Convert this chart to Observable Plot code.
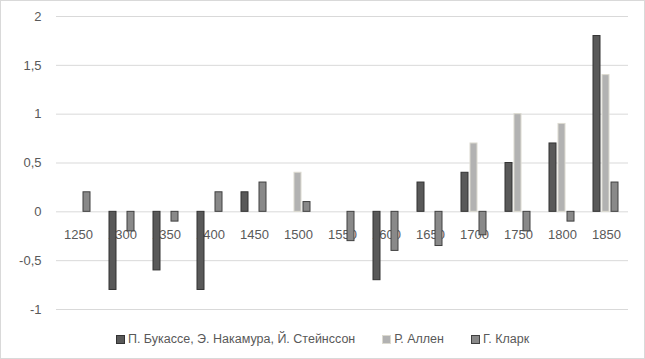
<!DOCTYPE html>
<html>
<head>
<meta charset="utf-8">
<script src="https://cdn.jsdelivr.net/npm/d3@7"></script>
<script src="https://cdn.jsdelivr.net/npm/@observablehq/plot@0.6"></script>
<style>
  html, body { margin: 0; padding: 0; background: #fff; }
  #wrap { width: 645px; height: 359px; box-sizing: border-box; border: 1px solid #d9d9d9; background: #fff; position: relative; overflow: hidden; }
  #legend { display: flex; justify-content: center; align-items: center; gap: 27px; font-family: "Liberation Sans", Arial, sans-serif; font-size: 12.5px; color: #595959; margin-top: 11px; }
  #legend .item { display: flex; align-items: center; }
  #legend .sw { width: 7px; height: 7px; margin-right: 3px; box-sizing: content-box; }
</style>
</head>
<body>
<div id="wrap"><div id="chart"></div><div id="legend"></div></div>
<script>
const years = [1250, 1300, 1350, 1400, 1450, 1500, 1550, 1600, 1650, 1700, 1750, 1800, 1850];
const seriesNames = ["П. Букассе, Э. Накамура, Й. Стейнссон", "Р. Аллен", "Г. Кларк"];
const bukasse = [null, -0.8, -0.6, -0.8, 0.2, null, null, -0.7, 0.3, 0.4, 0.5, 0.7, 1.8];
const allen   = [null, null, null, null, null, 0.4, null, null, null, 0.7, 1.0, 0.9, 1.4];
const clark   = [0.2, -0.2, -0.1, 0.2, 0.3, 0.1, -0.3, -0.4, -0.35, -0.24, -0.2, -0.1, 0.3];
const yTicks = [-1, -0.5, 0, 0.5, 1, 1.5, 2];

const fills = ["#595959", "#b2b2b2", "#898989"];
const strokes = ["#333333", "#dcdad0", "#404040"];

const seriesValues = [bukasse, allen, clark];
const rows = [];
seriesValues.forEach((vals, si) => {
  vals.forEach((v, i) => {
    if (v !== null) rows.push({year: years[i], series: seriesNames[si], value: v, si});
  });
});
const labelRows = years.map(y => ({year: y, zero: 0}));
const fmt = d => String(d).replace(".", ",");

const chart = Plot.plot({
  width: 643,
  height: 320,
  marginTop: 15,
  marginBottom: 12,
  marginLeft: 52,
  marginRight: 14,
  style: {fontFamily: "'Liberation Sans', Arial, sans-serif", fontSize: "13px", color: "#595959", background: "#fff"},
  fx: {axis: null, domain: years, padding: 0},
  x: {axis: null, domain: seriesNames, paddingInner: 0.2, paddingOuter: 0.82},
  y: {domain: [-1, 2], axis: null},
  marks: [
    Plot.gridY(yTicks, {stroke: "#d9d9d9", strokeOpacity: 1}),
    Plot.axisY(yTicks, {tickSize: 0, tickPadding: 15, tickFormat: fmt, fill: "#595959", fontSize: 13}),
    Plot.text(labelRows, {fx: "year", y: "zero", text: d => String(d.year), dy: 23, fill: "#595959", fontSize: 13}),
    Plot.barY(rows, {
      fx: "year", x: "series", y: "value",
      fill: d => fills[d.si], stroke: d => strokes[d.si], strokeWidth: 1
    })
  ]
});
document.getElementById("chart").appendChild(chart);

const legend = document.getElementById("legend");
seriesNames.forEach((name, i) => {
  const item = document.createElement("div");
  item.className = "item";
  const sw = document.createElement("span");
  sw.className = "sw";
  sw.style.background = fills[i];
  sw.style.border = "1px solid " + strokes[i];
  const t = document.createElement("span");
  t.textContent = name;
  item.appendChild(sw);
  item.appendChild(t);
  legend.appendChild(item);
});
</script>
</body>
</html>
